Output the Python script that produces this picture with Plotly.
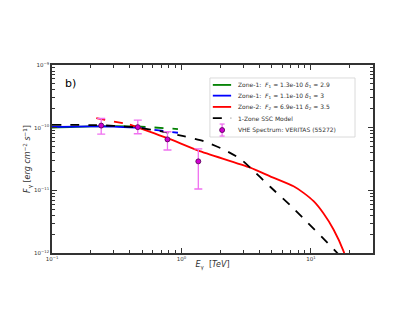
import plotly.graph_objects as go

# VERITAS VHE spectrum (MJD 55272)
E_data = [0.24, 0.46, 0.78, 1.35]
F_data = [1.08e-10, 1.02e-10, 6.5e-11, 2.9e-11]
F_up = [1.40e-10, 1.32e-10, 8.6e-11, 4.6e-11]
F_lo = [7.9e-11, 8.0e-11, 4.4e-11, 1.05e-11]

# Zone-1 (F1=1.3e-10, d1=2.9)
E_g = [0.1, 0.2, 0.3, 0.45]
F_g = [1.00e-10, 1.05e-10, 1.06e-10, 1.05e-10]
E_g_ext = [0.45, 0.94]
F_g_ext = [1.05e-10, 9.5e-11]

# Zone-1 (F1=1.1e-10, d1=3)
E_b = [0.1, 0.2, 0.3, 0.45]
F_b = [1.03e-10, 1.05e-10, 1.04e-10, 1.00e-10]
E_b_ext = [0.45, 0.94]
F_b_ext = [1.00e-10, 8.3e-11]

# Zone-2 (F2=6.9e-11, d2=3.5)
E_r_ext = [0.22, 0.40]
F_r_ext = [1.42e-10, 1.12e-10]
E_r = [0.40, 0.78, 1.35, 3.4, 4.85, 7.35, 8.78, 10.5, 12.5, 15.0, 17.9, 19.0]
F_r = [1.12e-10, 6.8e-11, 4.3e-11, 2.3e-11, 1.67e-11, 1.16e-11, 9.1e-12,
       6.7e-12, 4.3e-12, 2.35e-12, 1.06e-12, 7e-13]

# 1-zone SSC model
E_k = [0.1, 0.2, 0.3, 0.46, 0.686, 1.04, 1.48, 2.11, 2.84, 3.4, 4.85, 7.3, 16.0, 18.0]
F_k = [1.11e-10, 1.10e-10, 1.07e-10, 1.0e-10, 8.8e-11, 7.3e-11, 6.1e-11,
       4.5e-11, 3.2e-11, 2.3e-11, 1.14e-11, 5.2e-12, 1.0e-12, 7.5e-13]

x_exps = [-1, 0, 1]
y_exps = [-12, -11, -10, -9]

legend_labels = [
    'Zone-1:  <i>F</i><sub>1</sub> = 1.3e-10 <i>δ</i><sub>1</sub> = 2.9',
    'Zone-1:  <i>F</i><sub>1</sub> = 1.1e-10 <i>δ</i><sub>1</sub> = 3',
    'Zone-2:  <i>F</i><sub>2</sub> = 6.9e-11 <i>δ</i><sub>2</sub> = 3.5',
    '1-Zone SSC Model',
    'VHE Spectrum: VERITAS (55272)',
]

GREEN, BLUE, RED = '#008000', '#0000ff', '#ff0000'
MAG, MAG_EDGE, VIOLET = '#d000d0', '#500050', '#f070f0'
LW = 1.8
XR, YR = [-1, 1.48], [-12, -9]
AX = '#333333'

# tick positions (major decades, minor 2..9)
x_major = [10 ** e for e in x_exps]
x_minor = [m * 10 ** e for e in x_exps for m in range(2, 10)]
y_major = [10 ** e for e in y_exps]
y_minor = [m * 10 ** e for e in y_exps[:-1] for m in range(2, 10)]

fig = go.Figure()

fig.add_trace(go.Scatter(x=E_g, y=F_g, mode='lines', line=dict(color=GREEN, width=LW, shape='spline')))
fig.add_trace(go.Scatter(x=E_g_ext, y=F_g_ext, mode='lines', line=dict(color=GREEN, width=LW, dash='dash')))
fig.add_trace(go.Scatter(x=E_b, y=F_b, mode='lines', line=dict(color=BLUE, width=LW, shape='spline')))
fig.add_trace(go.Scatter(x=E_b_ext, y=F_b_ext, mode='lines', line=dict(color=BLUE, width=LW, dash='dash')))
fig.add_trace(go.Scatter(x=E_r, y=F_r, mode='lines',
                         line=dict(color=RED, width=LW, shape='spline', smoothing=0.6)))
fig.add_trace(go.Scatter(x=E_r_ext, y=F_r_ext, mode='lines', line=dict(color=RED, width=LW, dash='dash')))
fig.add_trace(go.Scatter(x=E_k, y=F_k, mode='lines',
                         line=dict(color='black', width=LW, dash='dash', shape='spline', smoothing=0.6)))
fig.add_trace(go.Scatter(
    x=E_data, y=F_data, mode='markers',
    marker=dict(color=MAG, size=5, line=dict(color=MAG_EDGE, width=0.8)),
    error_y=dict(type='data', symmetric=False,
                 array=[u - f for u, f in zip(F_up, F_data)],
                 arrayminus=[f - l for f, l in zip(F_data, F_lo)],
                 color=VIOLET, thickness=1.3, width=4)))
# invisible trace so the mirrored (top/right) tick axes get drawn
fig.add_trace(go.Scatter(x=E_data[:1], y=F_data[:1], xaxis='x2', yaxis='y2', mode='markers',
                         marker=dict(opacity=0), hoverinfo='skip'))

base = dict(type='log', showgrid=False, zeroline=False, ticks='inside', tickcolor=AX,
            ticklen=5, tickwidth=0.8)
tickfont = dict(family='DejaVu Sans', size=5.5, color=AX)


def minor(vals):
    return dict(tickmode='array', tickvals=vals, ticks='inside', ticklen=3,
                tickwidth=0.7, tickcolor=AX, showgrid=False)


fig.update_layout(
    xaxis=dict(**base, range=XR, showline=True, mirror=True, linecolor=AX, linewidth=1.5,
               minor=minor(x_minor), tickfont=tickfont, tickvals=x_major,
               ticktext=['10<sup>%d</sup>' % e if e >= 0 else '10<sup>−%d</sup>' % -e for e in x_exps],
               title=dict(text='<i>E</i><sub>γ</sub>  [<i>TeV</i>]', standoff=0,
                          font=dict(family='DejaVu Sans', size=8, color=AX))),
    yaxis=dict(**base, range=YR, showline=True, mirror=True, linecolor=AX, linewidth=1.5,
               minor=minor(y_minor), tickfont=tickfont, tickvals=y_major,
               ticktext=['10<sup>−%d</sup>' % -e for e in y_exps],
               title=dict(text='<i>F</i><sub>γ</sub> [<i>erg cm</i><sup>−2</sup><i> s</i><sup>−1</sup>]',
                          standoff=0,
                          font=dict(family='DejaVu Sans', size=8, color=AX))),
    xaxis2=dict(**base, range=XR, overlaying='x', side='top', anchor='y2', showline=False,
                showticklabels=False, tickvals=x_major, minor=minor(x_minor)),
    yaxis2=dict(**base, range=YR, overlaying='y', side='right', anchor='x2', showline=False,
                showticklabels=False, tickvals=y_major, minor=minor(y_minor)),
)

fig.add_annotation(text='b)', xref='paper', yref='paper', x=0.034, y=0.904,
                   xanchor='left', yanchor='middle', showarrow=False,
                   font=dict(family='DejaVu Sans', size=11, color='black'))

# hand-built legend (matplotlib-style compact rows)
fig.add_shape(type='rect', xref='paper', yref='paper', x0=0.492, x1=0.944, y0=0.617, y1=0.931,
              line=dict(color='#d0d0d0', width=0.8), fillcolor='rgba(255,255,255,0.85)', layer='above')
row_y = [0.894, 0.837, 0.777, 0.717, 0.654]
line_styles = [(GREEN, 'solid'), (BLUE, 'solid'), (RED, 'solid'), ('black', 'dash')]
for (col, dash), yy in zip(line_styles, row_y):
    fig.add_shape(type='line', xref='paper', yref='paper', x0=0.501, x1=0.558, y0=yy, y1=yy,
                  line=dict(color=col, width=LW, dash=dash), layer='above')
yy = row_y[4]
fig.add_shape(type='line', xref='paper', yref='paper', xsizemode='pixel', ysizemode='pixel',
              xanchor=0.530, yanchor=yy, x0=0, x1=0, y0=-6, y1=6,
              line=dict(color=VIOLET, width=1.3), layer='above')
for dy in (-6, 6):
    fig.add_shape(type='line', xref='paper', yref='paper', xsizemode='pixel', ysizemode='pixel',
                  xanchor=0.530, yanchor=yy, x0=-2.5, x1=2.5, y0=dy, y1=dy,
                  line=dict(color=VIOLET, width=1.3), layer='above')
fig.add_shape(type='circle', xref='paper', yref='paper', xsizemode='pixel', ysizemode='pixel',
              xanchor=0.530, yanchor=yy, x0=-2.5, x1=2.5, y0=-2.5, y1=2.5,
              fillcolor=MAG, line=dict(color=MAG_EDGE, width=0.8), layer='above')
for label, yy in zip(legend_labels, row_y):
    fig.add_annotation(text=label, xref='paper', yref='paper', x=0.573, y=yy,
                       xanchor='left', yanchor='middle', showarrow=False,
                       font=dict(family='DejaVu Sans', size=6, color=AX))

fig.update_layout(
    width=415, height=321,
    margin=dict(l=44, r=50, t=57, b=76),
    paper_bgcolor='white', plot_bgcolor='white',
    showlegend=False,
)

fig.write_html("out.html")
